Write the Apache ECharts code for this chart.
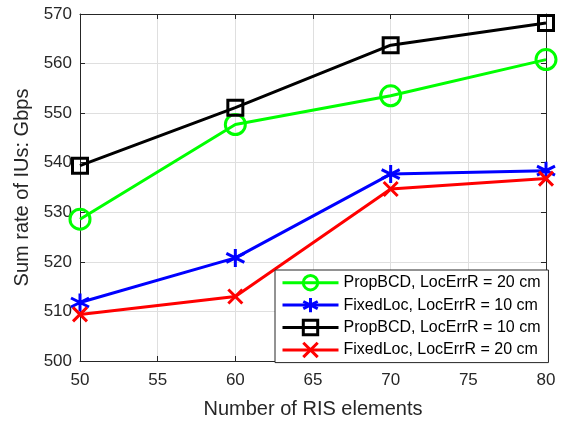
<!DOCTYPE html>
<html>
<head>
<meta charset="utf-8">
<script src="https://cdn.jsdelivr.net/npm/echarts@6/dist/echarts.min.js"></script>
<style>
  html, body { margin: 0; padding: 0; background: #fff; }
  #chart { width: 565px; height: 424px; }
</style>
</head>
<body>
<div id="chart"></div>
<script>
const risElements = [50, 60, 70, 80]
const propBcd20 = [528.6, 547.7, 553.5, 560.8]
const fixedLoc10 = [511.8, 520.8, 537.7, 538.4]
const propBcd10 = [539.4, 551.1, 563.7, 568.2]
const fixedLoc20 = [509.4, 513.0, 534.7, 536.8]

const axisColor = '#262626'
const font = 'Liberation Sans, Arial, sans-serif'

const asterisk = 'path://M5,0L5,10M0.7,2.5L9.3,7.5M0.7,7.5L9.3,2.5'
const cross = 'path://M0,0L10,10M10,0L0,10'

function pairs(values) {
  return values.map((v, i) => [risElements[i], v])
}

function line(name, values, color, symbol, size) {
  return {
    name,
    type: 'line',
    data: pairs(values),
    symbol,
    symbolSize: size,
    lineStyle: { color, width: 3 },
    itemStyle: { color: 'rgba(0,0,0,0)', borderColor: color, borderWidth: 3 },
    emphasis: { disabled: true },
    z: 3,
  }
}

const chart = echarts.init(document.getElementById('chart'))
chart.setOption({
  animation: false,
  backgroundColor: '#fff',
  textStyle: { fontFamily: font },
  grid: { left: 80, right: 19, top: 14, bottom: 61, show: false },
  legend: {
    orient: 'vertical',
    left: 275,
    top: 270,
    width: 273,
    padding: [4, 8, 4, 6],
    itemGap: 5,
    itemWidth: 56,
    itemHeight: 18,
    backgroundColor: '#fff',
    borderColor: axisColor,
    borderWidth: 1,
    borderRadius: 0,
    lineStyle: { width: 3 },
    itemStyle: { borderWidth: 3 },
    textStyle: { fontSize: 16, color: '#000', fontFamily: font },
    data: ['PropBCD, LocErrR = 20 cm', 'FixedLoc, LocErrR = 10 cm', 'PropBCD, LocErrR = 10 cm', 'FixedLoc, LocErrR = 20 cm'],
  },
  xAxis: [
    {
      type: 'value',
      min: 50,
      max: 80,
      interval: 5,
      name: 'Number of RIS elements',
      nameLocation: 'middle',
      nameGap: 38,
      nameTextStyle: { fontSize: 20, color: axisColor },
      axisLine: { show: true, lineStyle: { color: axisColor, width: 1 } },
      axisTick: { show: true, inside: true, length: 5, lineStyle: { color: axisColor } },
      axisLabel: { fontSize: 17, color: axisColor, margin: 11 },
      splitLine: { show: true, lineStyle: { color: '#dfdfdf', width: 1 } },
    },
    {
      type: 'value',
      position: 'top',
      min: 50,
      max: 80,
      interval: 5,
      axisLine: { show: true, onZero: false, lineStyle: { color: axisColor, width: 1 } },
      axisTick: { show: true, inside: true, length: 5, lineStyle: { color: axisColor } },
      axisLabel: { show: false },
      splitLine: { show: false },
    },
  ],
  yAxis: [
    {
      type: 'value',
      min: 500,
      max: 570,
      interval: 10,
      name: 'Sum rate of IUs: Gbps',
      nameLocation: 'middle',
      nameGap: 37,
      nameTextStyle: { fontSize: 20, color: axisColor },
      axisLine: { show: true, lineStyle: { color: axisColor, width: 1 } },
      axisTick: { show: true, inside: true, length: 5, lineStyle: { color: axisColor } },
      axisLabel: { fontSize: 17, color: axisColor, margin: 8 },
      splitLine: { show: true, lineStyle: { color: '#dfdfdf', width: 1 } },
    },
    {
      type: 'value',
      position: 'right',
      min: 500,
      max: 570,
      interval: 10,
      axisLine: { show: true, onZero: false, lineStyle: { color: axisColor, width: 1 } },
      axisTick: { show: true, inside: true, length: 5, lineStyle: { color: axisColor } },
      axisLabel: { show: false },
      splitLine: { show: false },
    },
  ],
  series: [
    line('PropBCD, LocErrR = 20 cm', propBcd20, '#00ff00', 'circle', 20),
    line('FixedLoc, LocErrR = 10 cm', fixedLoc10, '#0000ff', asterisk, 18),
    line('PropBCD, LocErrR = 10 cm', propBcd10, '#000000', 'rect', 15),
    line('FixedLoc, LocErrR = 20 cm', fixedLoc20, '#ff0000', cross, 14),
  ],
})
</script>
</body>
</html>
